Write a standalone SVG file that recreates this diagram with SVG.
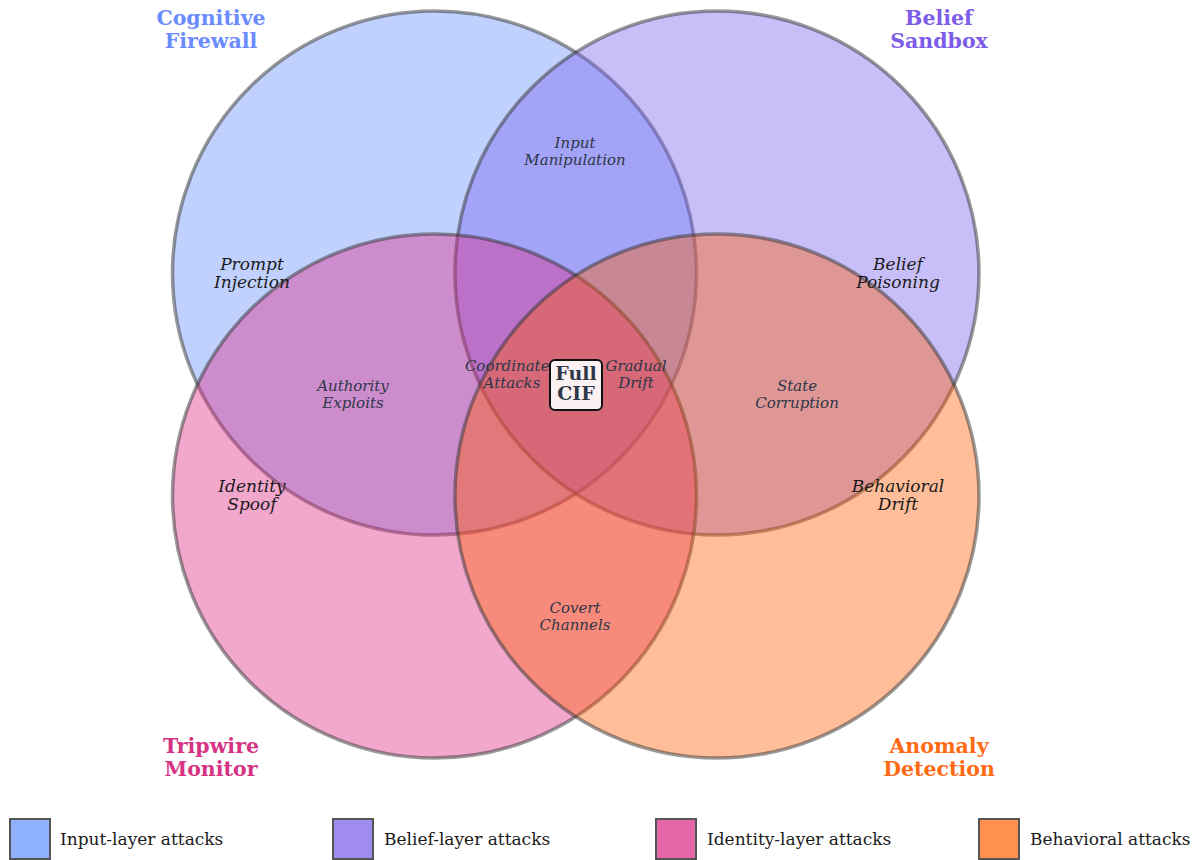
<svg xmlns="http://www.w3.org/2000/svg" width="1202" height="860" viewBox="0 0 1202 860">
  <style>
    .set { fill-opacity: 0.4; stroke: #333; stroke-opacity: 0.5; stroke-width: 3.5; }
    .title { font-family: "DejaVu Serif", serif; font-weight: bold; font-size: 20.5px; text-anchor: middle; }
    .main { font-family: "DejaVu Serif", serif; font-style: italic; font-size: 17px; fill: #1a1a1a; text-anchor: middle; }
    .sub { font-family: "DejaVu Serif", serif; font-style: italic; font-size: 15px; fill: #2d3748; text-anchor: middle; }
    .centre { font-family: "DejaVu Serif", serif; font-weight: bold; font-size: 19px; fill: #2d3748; text-anchor: middle; }
    .legend-box { stroke: #555; stroke-width: 2; }
    .legend-text { font-family: "DejaVu Serif", serif; font-size: 17px; fill: #1a1a1a; dominant-baseline: central; }
  </style>
  <rect width="1202" height="860" fill="#ffffff"/>

  <!-- four overlapping defence layers -->
  <g id="sets">
    <circle id="cognitive-firewall" class="set" cx="434.5" cy="273" r="262" fill="#648cfa"/>
    <circle id="belief-sandbox" class="set" cx="717" cy="273" r="262" fill="#755fed"/>
    <circle id="tripwire-monitor" class="set" cx="434.5" cy="496" r="262" fill="#de2582"/>
    <circle id="anomaly-detection" class="set" cx="717" cy="496" r="262" fill="#ff5c00"/>
  </g>

  <!-- set titles -->
  <g id="titles">
    <text class="title" fill="#6b8cff" x="211" y="25">Cognitive<tspan x="211" dy="23">Firewall</tspan></text>
    <text class="title" fill="#7c5ce8" x="939" y="25">Belief<tspan x="939" dy="23">Sandbox</tspan></text>
    <text class="title" fill="#d63384" x="211" y="753">Tripwire<tspan x="211" dy="23">Monitor</tspan></text>
    <text class="title" fill="#ff6a13" x="939" y="753">Anomaly<tspan x="939" dy="23">Detection</tspan></text>
  </g>

  <!-- single-layer attacks -->
  <g id="single-attacks">
    <text class="main" x="252" y="270">Prompt<tspan x="252" dy="18">Injection</tspan></text>
    <text class="main" x="898" y="270">Belief<tspan x="898" dy="18">Poisoning</tspan></text>
    <text class="main" x="252" y="492">Identity<tspan x="252" dy="18">Spoof</tspan></text>
    <text class="main" x="898" y="492">Behavioral<tspan x="898" dy="18">Drift</tspan></text>
  </g>

  <!-- cross-layer attacks -->
  <g id="cross-attacks">
    <text class="sub" x="575" y="148">Input<tspan x="575" dy="17">Manipulation</tspan></text>
    <text class="sub" x="353" y="391">Authority<tspan x="353" dy="17">Exploits</tspan></text>
    <text class="sub" x="797" y="391">State<tspan x="797" dy="17">Corruption</tspan></text>
    <text class="sub" x="575" y="613">Covert<tspan x="575" dy="17">Channels</tspan></text>
    <text class="sub" x="512" y="371">Coordinated<tspan x="512" dy="17">Attacks</tspan></text>
    <text class="sub" x="636" y="371">Gradual<tspan x="636" dy="17">Drift</tspan></text>
  </g>

  <!-- centre: all four layers -->
  <g id="full-cif">
    <rect x="550" y="360" width="52" height="50" rx="5" fill="#fbf1f3" stroke="#111" stroke-width="2"/>
    <text class="centre" x="576" y="380">Full<tspan x="576" dy="20">CIF</tspan></text>
  </g>

  <!-- legend -->
  <g id="legend">
    <rect class="legend-box" x="10" y="819" width="40" height="40" fill="#8fb0fc"/>
    <text class="legend-text" x="60" y="839">Input-layer attacks</text>
    <rect class="legend-box" x="333" y="819" width="40" height="40" fill="#a08cf0"/>
    <text class="legend-text" x="384" y="839">Belief-layer attacks</text>
    <rect class="legend-box" x="656" y="819" width="40" height="40" fill="#e466a6"/>
    <text class="legend-text" x="707" y="839">Identity-layer attacks</text>
    <rect class="legend-box" x="979" y="819" width="40" height="40" fill="#ff914d"/>
    <text class="legend-text" x="1030" y="839">Behavioral attacks</text>
  </g>
</svg>
